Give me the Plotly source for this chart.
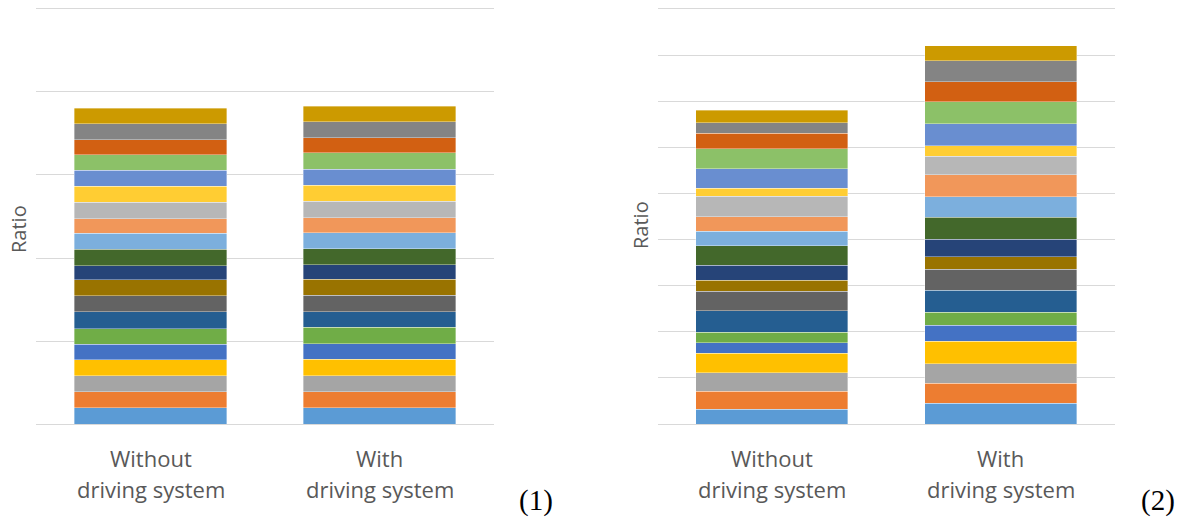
import plotly.graph_objects as go

categories = ["Without<br>driving system", "With<br>driving system"]
series_names = [f"Component {i}" for i in range(1, 21)]
colors = ["#5B9BD5", "#ED7D31", "#A5A5A5", "#FFC000", "#4472C4", "#70AD47",
          "#255E91", "#636363", "#997300", "#264478", "#43682B", "#7CAFDD",
          "#F1975A", "#B7B7B7", "#FFCD33", "#698ED0", "#8CC168", "#D26012",
          "#848484", "#CC9A00"]

# Panel (1): component ratios, bottom to top
p1_without = [0.0386, 0.0386, 0.0386, 0.0393, 0.0369, 0.0378, 0.0402, 0.0386, 0.0386, 0.0345,
              0.0393, 0.0386, 0.0354, 0.0393, 0.0386, 0.0386, 0.0378, 0.0354, 0.0386, 0.0376]
p1_with = [0.0386, 0.0386, 0.0393, 0.0393, 0.0378, 0.0393, 0.0378, 0.0393, 0.0386, 0.0354,
           0.0386, 0.0386, 0.0361, 0.0400, 0.0378, 0.0393, 0.0395, 0.0361, 0.0386, 0.0369]
# Panel (2)
p2_without = [0.0319, 0.0390, 0.0403, 0.0421, 0.0230, 0.0232, 0.0462, 0.0421, 0.0239, 0.0321,
              0.0430, 0.0312, 0.0310, 0.0449, 0.0174, 0.0425, 0.0427, 0.0341, 0.0223, 0.0275]
p2_with = [0.0449, 0.0440, 0.0421, 0.0490, 0.0347, 0.0275, 0.0477, 0.0456, 0.0275, 0.0375,
           0.0484, 0.0443, 0.0477, 0.0403, 0.0217, 0.0477, 0.0486, 0.0434, 0.0447, 0.0334]

fig = go.Figure()
for i in range(20):
    for vals_a, vals_b, xa, ya in [(p1_without, p1_with, "x", "y"), (p2_without, p2_with, "x2", "y2")]:
        fig.add_trace(go.Bar(
            x=categories, y=[vals_a[i], vals_b[i]], name=series_names[i],
            marker=dict(color=colors[i], line=dict(color="rgba(255,255,255,0.45)", width=0.8)),
            xaxis=xa, yaxis=ya, showlegend=False))

grid = "#D9D9D9"
W, H = 1186, 521
ydom = [1 - 424 / H, 1 - 6.5 / H]
common_x = dict(type="category", showticklabels=False, showgrid=False, zeroline=False,
                showline=False, ticks="", automargin=False)
common_y = dict(domain=ydom, showticklabels=False, ticks="", showgrid=True, gridcolor=grid,
                gridwidth=1, zeroline=True, zerolinecolor=grid, zerolinewidth=1, automargin=False)
fig.update_layout(
    barmode="stack", bargap=0.336,
    width=W, height=H, margin=dict(l=0, r=0, t=0, b=0, autoexpand=False),
    paper_bgcolor="white", plot_bgcolor="white",
    font=dict(family="Open Sans, Noto Sans, sans-serif", color="#595959"),
    xaxis=dict(domain=[36 / W, 494 / W], **common_x),
    xaxis2=dict(domain=[657.5 / W, 1115 / W], **common_x),
    yaxis=dict(range=[0, 1.006], dtick=0.2, **common_y),
    yaxis2=dict(range=[0, 0.9054], dtick=0.1, anchor="x2", **common_y),
)

# y-axis titles
for px, py in [(18, 229), (640, 225)]:
    fig.add_annotation(x=px / W, y=1 - py / H, xref="paper", yref="paper", text="Ratio",
                       textangle=-90, showarrow=False, xanchor="center", yanchor="middle",
                       font=dict(size=20, color="#595959"))

# category labels (two lines each) placed through the category axes
for xa in ["x", "x2"]:
    for c in categories:
        line1, line2 = c.split("<br>")
        for txt, py in [(line1, 458), (line2, 489)]:
            fig.add_annotation(x=c, xref=xa, y=1 - py / H, yref="paper", text=txt,
                               showarrow=False, xanchor="center", yanchor="middle",
                               font=dict(size=22, color="#595959"))

for label, px in [("(1)", 536), ("(2)", 1158)]:
    fig.add_annotation(x=px / W, xref="paper", y=1 - 500 / H, yref="paper", text=label,
                       showarrow=False, xanchor="center", yanchor="middle",
                       font=dict(family="Liberation Serif, DejaVu Serif, serif",
                                 size=29, color="black"))

fig.write_html("out.html", config={"displayModeBar": False},
               post_script="document.body.style.margin='0';")
